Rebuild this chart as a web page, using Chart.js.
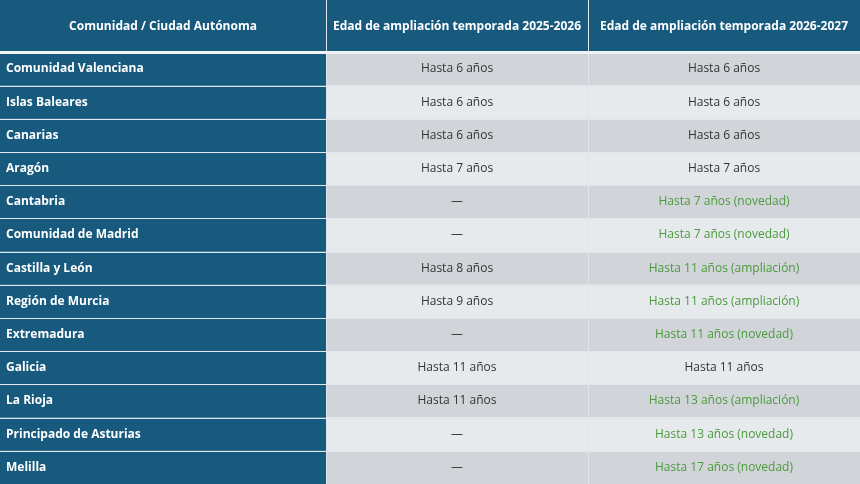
<!DOCTYPE html>
<html>
<head>
<meta charset="utf-8">
<script src="https://cdn.jsdelivr.net/npm/chart.js@4.4.0/dist/chart.umd.min.js"></script>
<style>
  html, body { margin: 0; padding: 0; background: #fff; }
  #wrap { width: 860px; height: 484px; }
</style>
</head>
<body>
<div id="wrap"><canvas id="table"></canvas></div>
<script>
/* ================= DATA ================= */
const headers = ["Comunidad / Ciudad Autónoma", "Edad de ampliación temporada 2025-2026", "Edad de ampliación temporada 2026-2027"];
const regions = ["Comunidad Valenciana", "Islas Baleares", "Canarias", "Aragón", "Cantabria", "Comunidad de Madrid",
    "Castilla y León", "Región de Murcia", "Extremadura", "Galicia", "La Rioja", "Principado de Asturias", "Melilla"];
const season2526 = ["Hasta 6 años", "Hasta 6 años", "Hasta 6 años", "Hasta 7 años", "—", "—",
    "Hasta 8 años", "Hasta 9 años", "—", "Hasta 11 años", "Hasta 11 años", "—", "—"];
const season2627 = ["Hasta 6 años", "Hasta 6 años", "Hasta 6 años", "Hasta 7 años", "Hasta 7 años (novedad)", "Hasta 7 años (novedad)",
    "Hasta 11 años (ampliación)", "Hasta 11 años (ampliación)", "Hasta 11 años (novedad)", "Hasta 11 años",
    "Hasta 13 años (ampliación)", "Hasta 13 años (novedad)", "Hasta 17 años (novedad)"];

/* ================= LAYOUT ================= */
const colEdges = [0, 326, 588, 860];
const headerRows = 1.58;
const totalRows = headerRows + regions.length;

const tablePlugin = {
    id: "tableCells",
    beforeDraw(chart) {
        const ctx = chart.ctx;
        const x = chart.scales.x, y = chart.scales.y;
        const xp = v => x.getPixelForValue(v);
        const yp = v => y.getPixelForValue(v);
        ctx.save();
        ctx.fillStyle = "#ffffff";
        ctx.fillRect(0, 0, chart.width, chart.height);

        // header
        for (let c = 0; c < 3; c++) {
            const x0 = xp(colEdges[c]), x1 = xp(colEdges[c + 1]);
            ctx.fillStyle = "#175a7e";
            ctx.fillRect(x0, yp(0), x1 - x0, yp(headerRows) - yp(0));
            ctx.fillStyle = "#ffffff";
            ctx.font = "bold 12px 'Open Sans'";
            ctx.textAlign = "center";
            ctx.textBaseline = "middle";
            ctx.fillText(headers[c], (x0 + x1) / 2, (yp(0) + yp(headerRows)) / 2);
        }

        // rows
        regions.forEach((name, i) => {
            const top = yp(headerRows + i), bot = yp(headerRows + i + 1);
            const mid = (top + bot) / 2;
            const cells = [name, season2526[i], season2627[i]];
            for (let c = 0; c < 3; c++) {
                const x0 = xp(colEdges[c]), x1 = xp(colEdges[c + 1]);
                ctx.fillStyle = c === 0 ? "#175a7e" : (i % 2 === 0 ? "#d1d5da" : "#e7eaed");
                ctx.fillRect(x0, top, x1 - x0, bot - top);
                const txt = cells[c];
                if (c === 0) {
                    ctx.fillStyle = "#ffffff";
                    ctx.font = "bold 12px 'Open Sans'";
                    ctx.textAlign = "left";
                    ctx.fillText(txt, x0 + 6, mid);
                } else {
                    const isNew = c === 2 && txt !== season2526[i];
                    ctx.fillStyle = isNew ? "#4b9a3c" : "#333333";
                    ctx.font = "12px 'Open Sans'";
                    ctx.textAlign = "center";
                    ctx.fillText(txt, (x0 + x1) / 2, mid);
                }
            }
        });

        // grid lines
        ctx.strokeStyle = "#dfe7ed";
        ctx.lineWidth = 1;
        for (let r = 1; r < regions.length; r++) {
            const yy = Math.round(yp(headerRows + r)) + 0.5;
            ctx.beginPath(); ctx.moveTo(0, yy); ctx.lineTo(chart.width, yy); ctx.stroke();
        }
        for (let c = 1; c < 3; c++) {
            const xx = Math.round(xp(colEdges[c])) + 0.5;
            ctx.beginPath(); ctx.moveTo(xx, 0); ctx.lineTo(xx, chart.height); ctx.stroke();
        }
        ctx.lineWidth = 3;
        ctx.strokeStyle = "#eef3f6";
        const hy = yp(headerRows);
        ctx.beginPath(); ctx.moveTo(0, hy); ctx.lineTo(chart.width, hy); ctx.stroke();
        ctx.restore();
    }
};

new Chart(document.getElementById("table"), {
    type: "scatter",
    data: { datasets: [{ data: [] }] },
    options: {
        responsive: true,
        maintainAspectRatio: false,
        animation: false,
        layout: { padding: 0 },
        plugins: { legend: { display: false }, tooltip: { enabled: false } },
        scales: {
            x: { type: "linear", min: 0, max: colEdges[3], display: false },
            y: { type: "linear", min: 0, max: totalRows, reverse: true, display: false }
        }
    },
    plugins: [tablePlugin]
});
</script>
</body>
</html>
